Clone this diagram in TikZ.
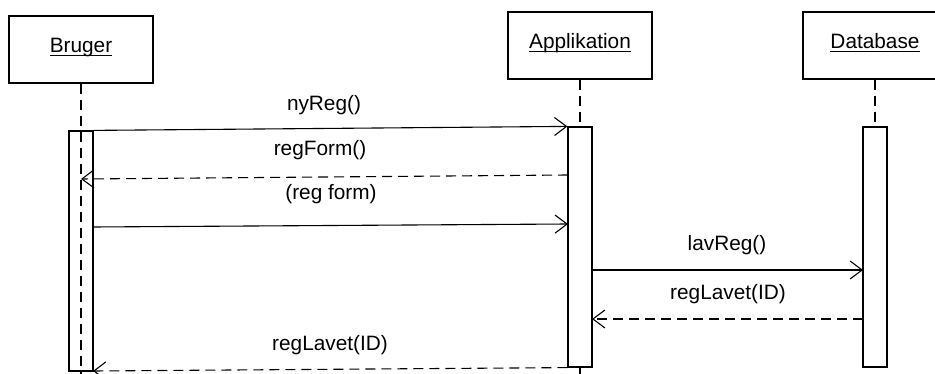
\documentclass[tikz,border=0pt]{standalone}
\usepackage{fontspec}
\setmainfont{Liberation Sans}
\usetikzlibrary{arrows.meta}

% underlined object name, as in UML sequence diagram heads
\newcommand\objname[1]{\setbox0\hbox{#1}\rlap{\rule[-4pt]{\wd0}{1.1pt}}\box0}

\begin{document}
\begin{tikzpicture}[x=1pt,y=-1pt,
  every node/.style={font=\fontsize{20.8}{25}\selectfont},
  objbox/.style={draw,line width=1.2pt,minimum width=144pt,minimum height=67pt,
    inner sep=0pt,text height=0.72em,text depth=0.21em},
  actbox/.style={draw,line width=1.2pt,minimum width=24pt,minimum height=240pt,inner sep=0pt},
  lifeline/.style={line width=1.1pt,dash pattern=on 10pt off 6pt},
  msg/.style={line width=1.1pt,-{Straight Barb[length=12pt,width=18pt,line width=1.1pt]}},
  reply/.style={msg,dash pattern=on 10pt off 6pt},
  lbl/.style={anchor=base,inner sep=0pt}]

\path[use as bounding box,clip] (0,0) rectangle (935,374);
\fill[white] (0,0) rectangle (935,374);

% object heads
\node[objbox] (bruger) at (81,49.5) {\objname{Bruger}};
\node[objbox] (app)    at (580,45.5) {\objname{Applikation}};
\node[objbox] (db)     at (875,45.5) {\objname{Database}};

% lifeline ends
\coordinate (bEnd) at (81,376);
\coordinate (aEnd) at (580,376);

% Bruger lifeline runs through its (unfilled) activation bar
\draw[lifeline] (bruger.south) -- (bEnd);
\node[actbox] (actB) at (81,251) {};

% Applikation and Database activation bars
\node[actbox,fill=white] (actA) at (580,247) {};
\node[actbox,fill=white] (actD) at (875,247) {};
\draw[lifeline] (app.south) -- (actA.north);
\draw[lifeline] (actA.south) -- (aEnd);
\draw[lifeline] (db.south) -- (actD.north);

% message end points
\coordinate (m2s) at (568,175);
\coordinate (m2e) at (81,179);
\coordinate (m3s) at (93,227);
\coordinate (m3e) at (568,224);
\coordinate (m4s) at (592,270);
\coordinate (m4e) at (863,270);
\coordinate (m5s) at (863,319);
\coordinate (m5e) at (592,319);
\coordinate (m6e) at (93,371);

% messages
\draw[msg]   (actB.north east) -- (actA.north west);
\draw[reply] (m2s) -- (m2e);
\draw[msg]   (m3s) -- (m3e);
\draw[msg]   (m4s) -- (m4e);
\draw[reply] (m5s) -- (m5e);
\draw[reply] (actA.south west) -- (m6e);

% message labels
\node[lbl] (l1) at (324,111) {nyReg()};
\node[lbl] (l2) at (320,156) {regForm()};
\node[lbl] (l3) at (331,200) {(reg form)};
\node[lbl] (l4) at (727,251) {lavReg()};
\node[lbl] (l5) at (728,299) {regLavet(ID)};
\node[lbl] (l6) at (330,350) {regLavet(ID)};
\end{tikzpicture}
\end{document}
